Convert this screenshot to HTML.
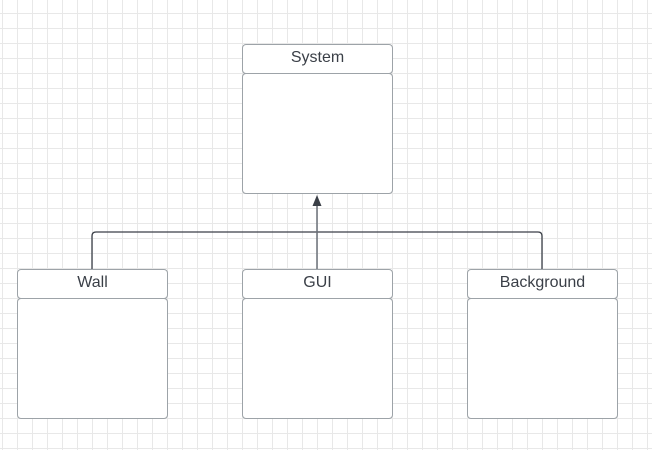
<!DOCTYPE html>
<html><head><style>
html,body{margin:0;padding:0;}
body{width:652px;height:450px;position:relative;overflow:hidden;background:#fff;
background-image:linear-gradient(to right,#e8e8e8 1px,transparent 1px),linear-gradient(to bottom,#e8e8e8 1px,transparent 1px);
background-size:15px 15px;background-position:2px 13px;font-family:"Liberation Sans",sans-serif;}
.h,.b{position:absolute;background:#fff;border:1px solid #9da3a8;box-sizing:border-box;border-radius:4px;}
.h{height:30px;text-align:center;line-height:25px;font-size:16px;color:#3a3f47;}
svg{position:absolute;left:0;top:0;}
</style></head><body>
<svg width="652" height="450">
<path d="M92 269 V236 Q92 232 96 232 H538 Q542 232 542 236 V269" fill="none" stroke="#3a3f47" stroke-width="1.3"/>
<line x1="317" y1="269" x2="317" y2="205" stroke="#6b7078" stroke-width="1.5"/>
<polygon points="317,195 312.5,206 321.5,206" fill="#3a3f47"/>
</svg>
<div class="h" style="left:242px;top:44px;width:151px;">System</div>
<div class="b" style="left:242px;top:73px;width:151px;height:121px;"></div>
<div class="h" style="left:17px;top:269px;width:151px;">Wall</div>
<div class="b" style="left:17px;top:298px;width:151px;height:121px;"></div>
<div class="h" style="left:242px;top:269px;width:151px;">GUI</div>
<div class="b" style="left:242px;top:298px;width:151px;height:121px;"></div>
<div class="h" style="left:467px;top:269px;width:151px;">Background</div>
<div class="b" style="left:467px;top:298px;width:151px;height:121px;"></div>
</body></html>
